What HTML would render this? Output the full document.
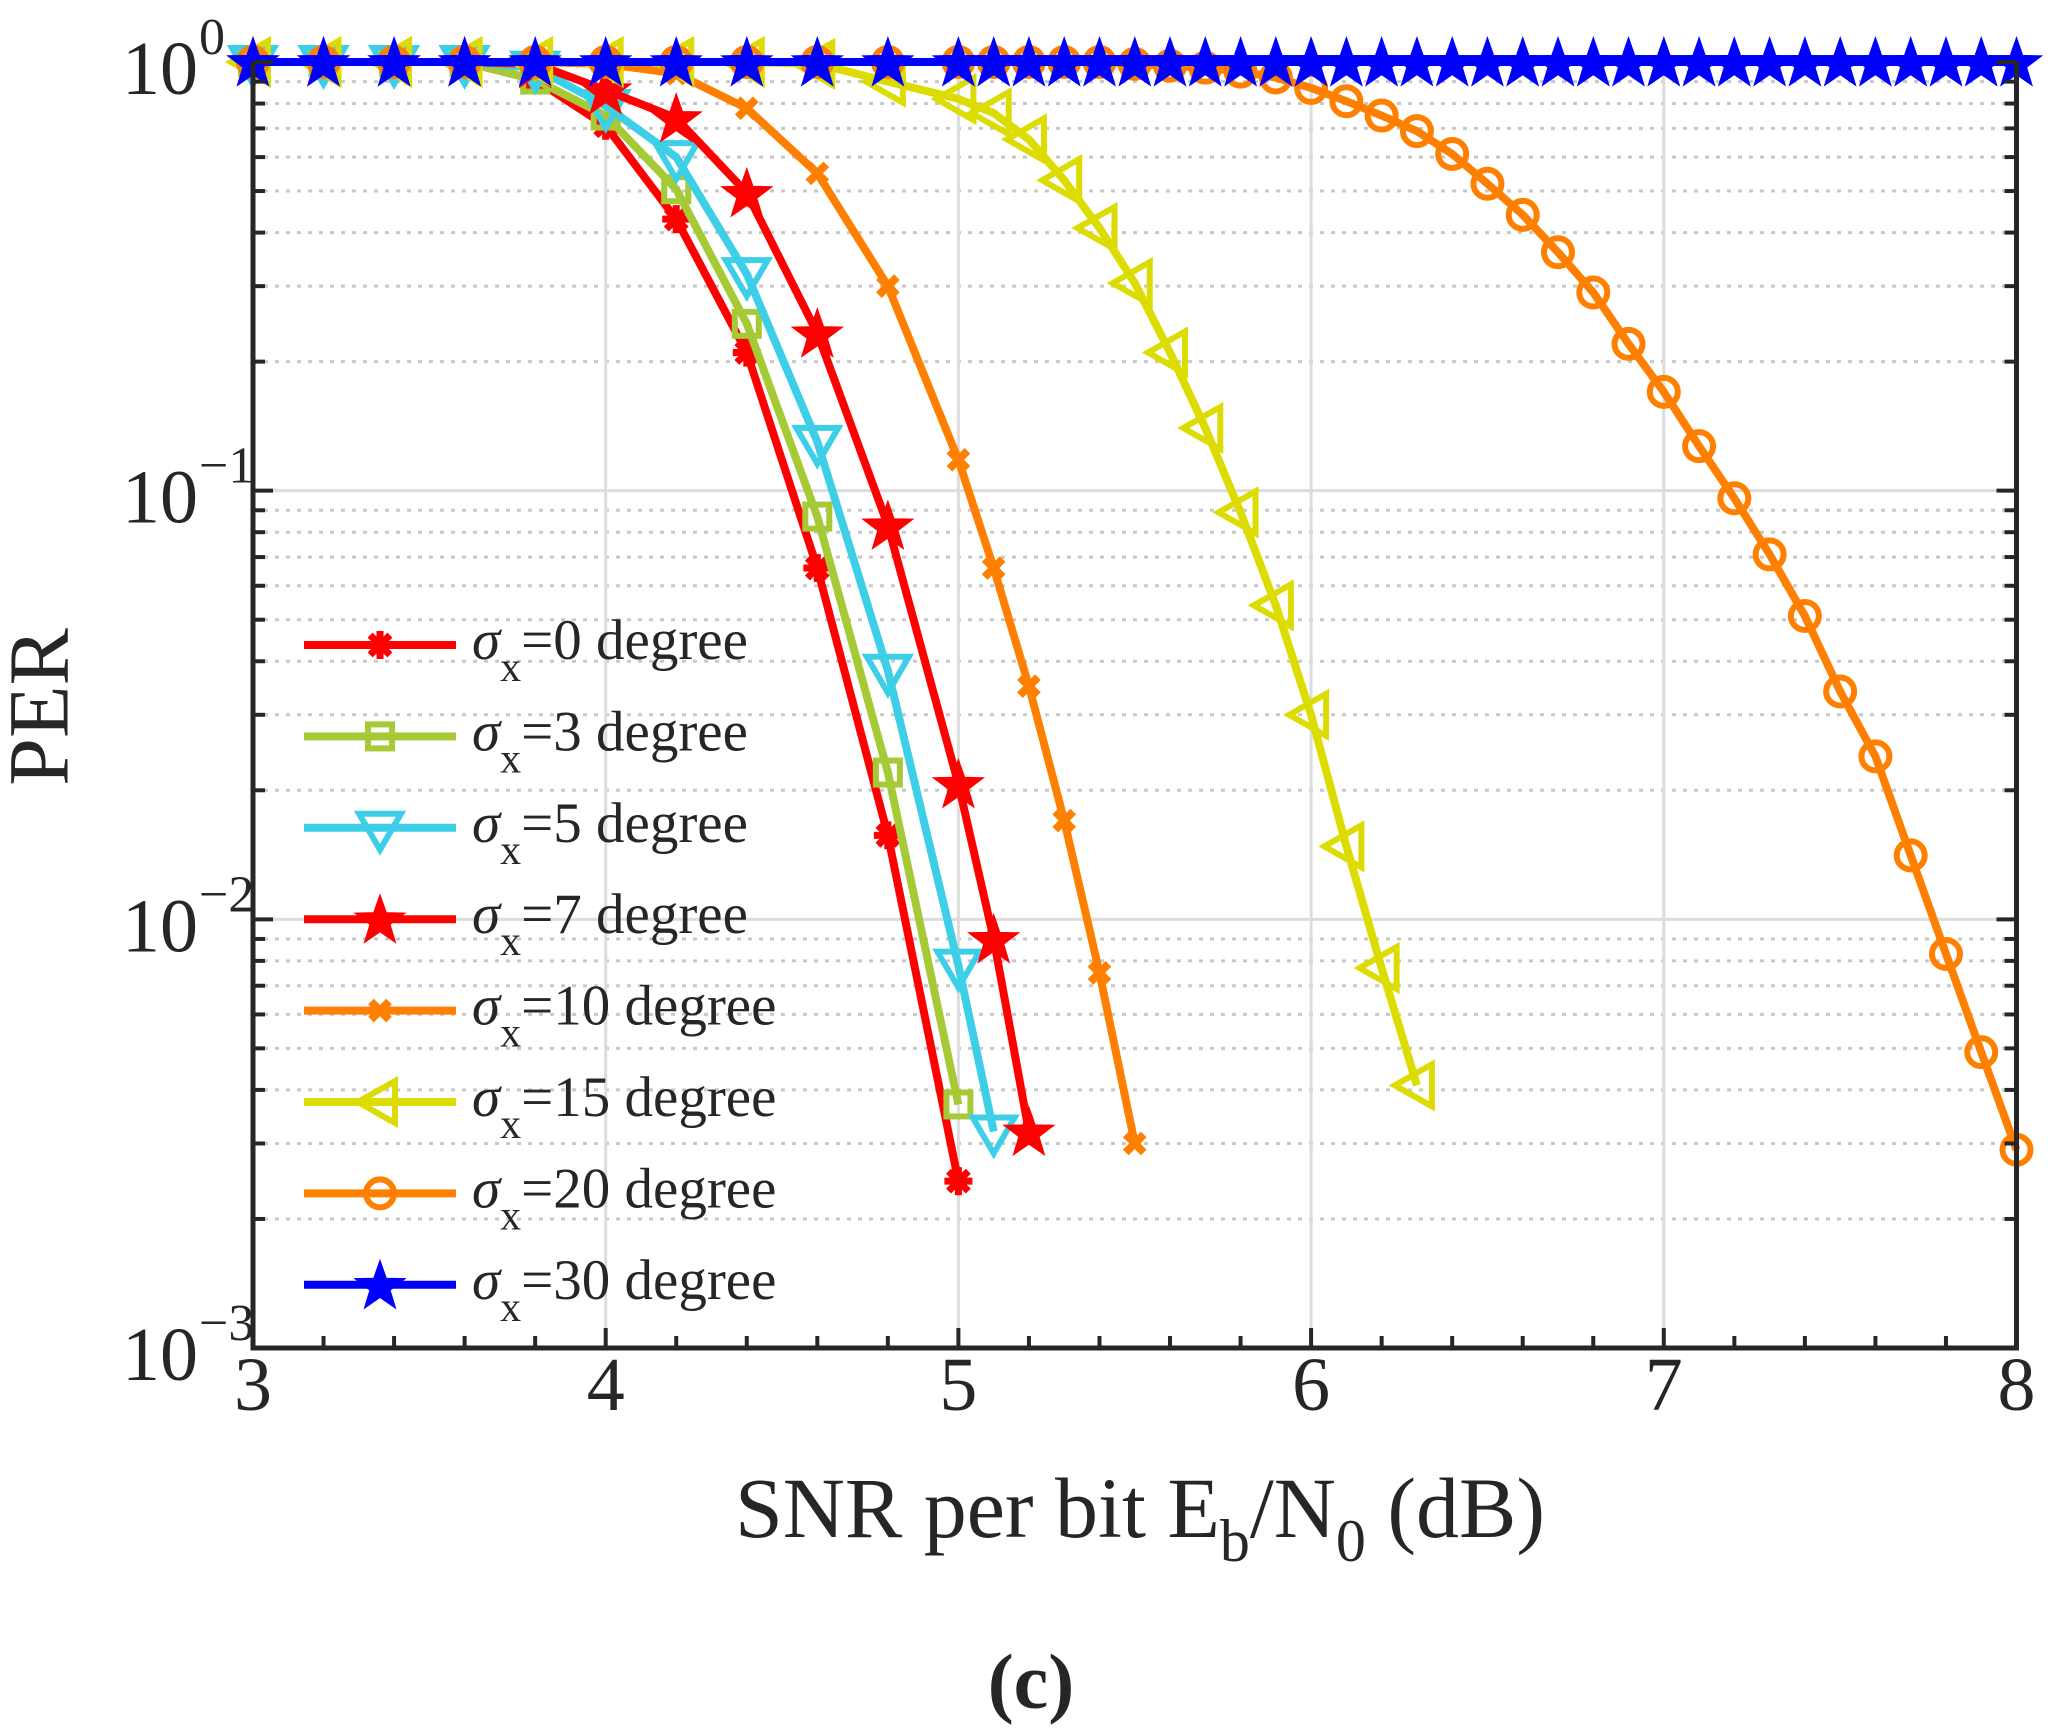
<!DOCTYPE html>
<html><head><meta charset="utf-8"><style>
html,body{margin:0;padding:0;background:#fff}
svg{display:block}
text{font-family:"Liberation Serif",serif;fill:#262626}
</style></head><body>
<svg id="chart" width="2063" height="1735" viewBox="0 0 2063 1735" xmlns="http://www.w3.org/2000/svg">
<g id="grid"></g>
<g id="series"></g>
<g id="axes"></g>
<g id="legend"></g>
<text x="48" y="707" font-size="86" text-anchor="middle" transform="rotate(-90 48 707)" dominant-baseline="middle">PER</text>
<text x="1140" y="1537" font-size="86" text-anchor="middle">SNR per bit E<tspan font-size="60" dy="24">b</tspan><tspan dy="-24">/N</tspan><tspan font-size="60" dy="24">0</tspan><tspan dy="-24"> (dB)</tspan></text>
<text x="1031" y="1708" font-size="78" font-weight="bold" text-anchor="middle">(c)</text>
</svg>
<script>
const xTicks=[3,4,5,6,7,8];
const yDecades=[0,-1,-2,-3];
const seriesNames=["0","3","5","7","10","15","20","30"];
const x0=[3,3.2,3.4,3.6,3.8,4,4.2,4.4,4.6,4.8,5];
const y0=[1,1,1,1,0.91,0.71,0.43,0.21,0.066,0.0157,0.00245];
const x3=[3,3.2,3.4,3.6,3.8,4,4.2,4.4,4.6,4.8,5];
const y3=[1,1,1,1,0.91,0.75,0.505,0.245,0.087,0.022,0.0037];
const x5=[3,3.2,3.4,3.6,3.8,4,4.2,4.4,4.6,4.8,5,5.1];
const y5=[1,1,1,1,0.97,0.79,0.6,0.32,0.13,0.038,0.0078,0.0032];
const x7=[3,3.2,3.4,3.6,3.8,4,4.2,4.4,4.6,4.8,5,5.1,5.2];
const y7=[1,1,1,1,0.99,0.86,0.74,0.495,0.233,0.083,0.0207,0.009,0.0032];
const x10=[3,3.2,3.4,3.6,3.8,4,4.2,4.4,4.6,4.8,5,5.1,5.2,5.3,5.4,5.5];
const y10=[1,1,1,1,1,0.99,0.94,0.78,0.55,0.3,0.118,0.066,0.035,0.017,0.0075,0.003];
const x15=[3,3.2,3.4,3.6,3.8,4,4.2,4.4,4.6,4.8,5,5.1,5.2,5.3,5.4,5.5,5.6,5.7,5.8,5.9,6,6.1,6.2,6.3];
const y15=[1,1,1,1,1,1,1,1,0.99,0.9,0.82,0.76,0.66,0.53,0.41,0.305,0.21,0.14,0.089,0.054,0.03,0.0148,0.0077,0.0041];
const x20=[3,3.2,3.4,3.6,3.8,4,4.2,4.4,4.6,4.8,5,5.1,5.2,5.3,5.4,5.5,5.6,5.7,5.8,5.9,6,6.1,6.2,6.3,6.4,6.5,6.6,6.7,6.8,6.9,7,7.1,7.2,7.3,7.4,7.5,7.6,7.7,7.8,7.9,8];
const y20=[1,1,1,1,1,1,1,1,1,1,1,1,1,1,1,0.99,0.98,0.97,0.95,0.92,0.87,0.81,0.75,0.69,0.61,0.52,0.44,0.36,0.29,0.22,0.17,0.127,0.096,0.071,0.051,0.034,0.024,0.0141,0.0083,0.0049,0.0029];
const x30=[3,3.2,3.4,3.6,3.8,4,4.2,4.4,4.6,4.8,5,5.1,5.2,5.3,5.4,5.5,5.6,5.7,5.8,5.9,6,6.1,6.2,6.3,6.4,6.5,6.6,6.7,6.8,6.9,7,7.1,7.2,7.3,7.4,7.5,7.6,7.7,7.8,7.9,8];
const y30=[1,1,1,1,1,1,1,1,1,1,1,1,1,1,1,1,1,1,1,1,1,1,1,1,1,1,1,1,1,1,1,1,1,1,1,1,1,1,1,1,1];

const NS="http://www.w3.org/2000/svg";
const L=253,R=2016.5,B=1348,T=62;
function sx(v){return L+(v-3)/5*(R-L);}
function sy(v){return T+(-Math.log10(v))/3*(B-T);}
function mk(tag,attrs,parent){const e=document.createElementNS(NS,tag);for(const k in attrs)e.setAttribute(k,attrs[k]);parent.appendChild(e);return e;}
const grid=document.getElementById('grid'),axes=document.getElementById('axes'),ser=document.getElementById('series'),leg=document.getElementById('legend');
for(const d of [-3,-2,-1]){for(let m=2;m<=9;m++){const y=sy(m*Math.pow(10,d));
 const g=mk('line',{x1:L,x2:R,y1:y,y2:y,stroke:'#c8c8c8','stroke-width':3,'stroke-dasharray':'4 7'},grid);
 
 for(const xx of [L,R]){const t=mk('line',{x1:xx,x2:xx===L?L+12:R-12,y1:y,y2:y,stroke:'#262626','stroke-width':4},axes);
 }}}
for(const d of yDecades){const y=sy(Math.pow(10,d));
 const g=mk('line',{x1:L,x2:R,y1:y,y2:y,stroke:'#dcdcdc','stroke-width':3},grid);
 
 for(const xx of [L,R]){const t=mk('line',{x1:xx,x2:xx===L?L+20:R-20,y1:y,y2:y,stroke:'#262626','stroke-width':4},axes);
 }
 const tx=mk('text',{x:198,y:y+32,'font-size':76,'text-anchor':'end'},axes);tx.textContent='10';
 
 const sp=mk('text',{x:199,y:y-8,'font-size':52,'text-anchor':'start'},axes);sp.textContent=d===0?'0':'\u2212'+(-d);
 }
for(const v of xTicks){const x=sx(v);
 const g=mk('line',{x1:x,x2:x,y1:T,y2:B,stroke:'#dcdcdc','stroke-width':3},grid);
 
 const t=mk('line',{x1:x,x2:x,y1:B,y2:B-20,stroke:'#262626','stroke-width':4},axes);
 
 const tx=mk('text',{x:x,y:1410,'font-size':76,'text-anchor':'middle'},axes);tx.textContent=String(v);
 }
for(let v=3.2;v<8;v+=0.2){if(Math.abs(v-Math.round(v))<0.01)continue;const x=sx(v);
 const t=mk('line',{x1:x,x2:x,y1:B,y2:B-12,stroke:'#262626','stroke-width':4},axes);
 }
const fr=mk('path',{d:`M${L},${T} L${L},${B} L${R},${B} L${R},${T}`,fill:'none',stroke:'#262626','stroke-width':5},axes);


function star(cx,cy,r){let p=[];for(let i=0;i<10;i++){const a=-Math.PI/2+i*Math.PI/5;const rr=i%2?r*0.4:r;p.push((cx+rr*Math.cos(a)).toFixed(1)+','+(cy+rr*Math.sin(a)).toFixed(1));}return p.join(' ');}
function marker(type,cx,cy,col,g){let e;
 if(type==='ast'){e=mk('g',{},g);for(let i=0;i<4;i++){const a=i*Math.PI/4,r=14;mk('line',{x1:cx-r*Math.cos(a),y1:cy-r*Math.sin(a),x2:cx+r*Math.cos(a),y2:cy+r*Math.sin(a),stroke:col,'stroke-width':7},e);}}
 else if(type==='sq')e=mk('rect',{x:cx-12,y:cy-12,width:24,height:24,fill:'none',stroke:col,'stroke-width':6},g);
 else if(type==='tdown')e=mk('polygon',{points:`${cx-21},${cy-14} ${cx+21},${cy-14} ${cx},${cy+22}`,fill:'none',stroke:col,'stroke-width':6},g);
 else if(type==='tleft')e=mk('polygon',{points:`${cx-22},${cy} ${cx+15},${cy-21} ${cx+15},${cy+21}`,fill:'none',stroke:col,'stroke-width':6},g);
 else if(type==='star')e=mk('polygon',{points:star(cx,cy+2,25),fill:col,stroke:col,'stroke-width':2},g);
 else if(type==='x'){e=mk('g',{},g);mk('line',{x1:cx-9,y1:cy-9,x2:cx+9,y2:cy+9,stroke:col,'stroke-width':8},e);mk('line',{x1:cx-9,y1:cy+9,x2:cx+9,y2:cy-9,stroke:col,'stroke-width':8},e);}
 else if(type==='circ')e=mk('circle',{cx:cx,cy:cy,r:14,fill:'none',stroke:col,'stroke-width':6},g);
 return e;}
const defs=[[x0,y0,'#ff0000','ast'],[x3,y3,'#a6c936','sq'],[x5,y5,'#3ecfe8','tdown'],[x7,y7,'#ff0000','star'],[x10,y10,'#ff8000','x'],[x15,y15,'#dcdc00','tleft'],[x20,y20,'#ff8000','circ'],[x30,y30,'#0000ff','star']];
defs.forEach((d,i)=>{const g=mk('g',{},ser);
 
 const pts=d[0].map((x,j)=>sx(x).toFixed(1)+','+sy(d[1][j]).toFixed(1)).join(' ');
 mk('polyline',{points:pts,fill:'none',stroke:d[2],'stroke-width':8,'stroke-linejoin':'round'},g);
 d[0].forEach((x,j)=>{const m=marker(d[3],sx(x),sy(d[1][j]),d[2],g);
 });
 const ly=645+i*91.4;const lg=mk('g',{},leg);
 
 mk('line',{x1:304,x2:456,y1:ly,y2:ly,stroke:d[2],'stroke-width':8},lg);marker(d[3],380,ly,d[2],lg);
 const t=mk('text',{x:472,y:ly+14,'font-size':57},lg);
 t.innerHTML='<tspan font-style="italic">σ</tspan><tspan font-size="42" dy="22">x</tspan><tspan dy="-22">='+seriesNames[i]+' degree</tspan>';});
</script>
</body></html>
